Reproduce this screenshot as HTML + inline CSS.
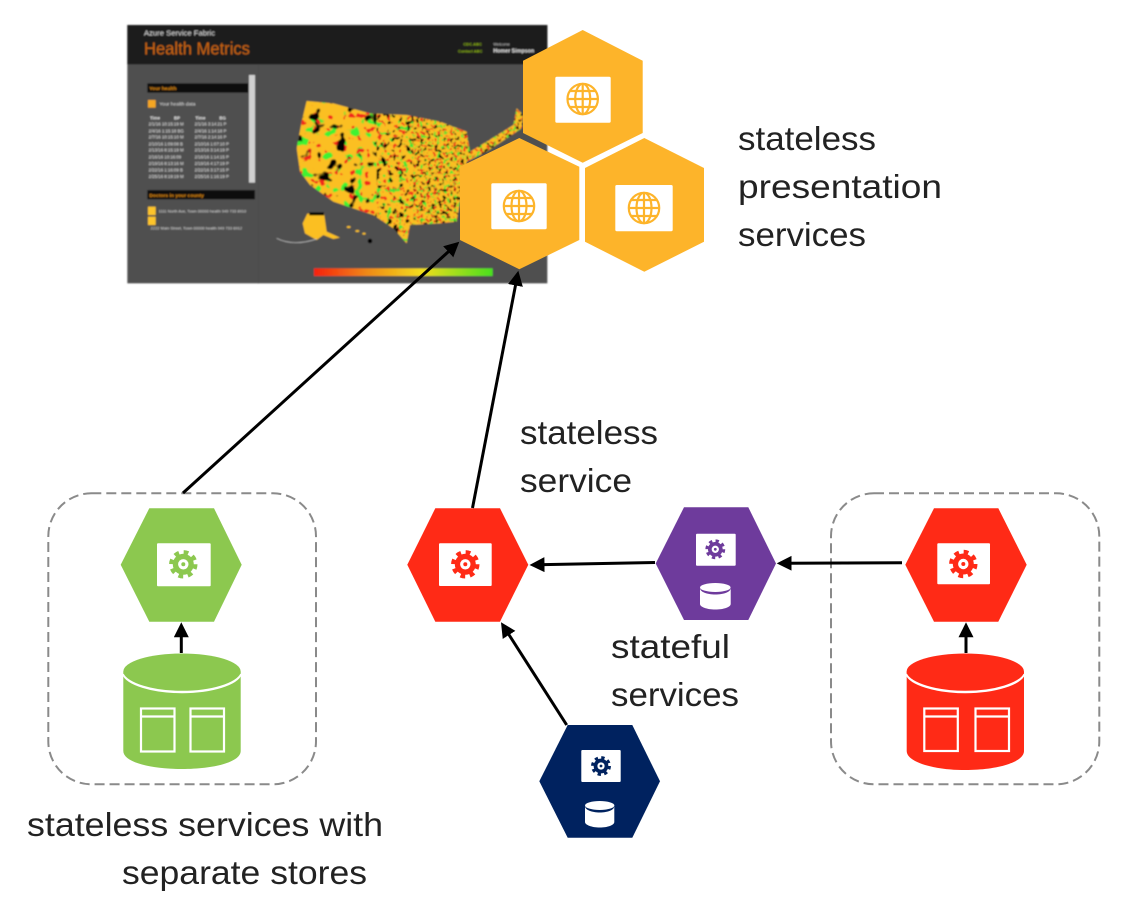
<!DOCTYPE html>
<html><head><meta charset="utf-8"><title>Service Fabric health metrics diagram</title>
<style>
html,body{margin:0;padding:0;background:#fff;width:1130px;height:900px;overflow:hidden}
svg{display:block}
.t{font-family:"Liberation Sans",sans-serif;font-size:33px;fill:#222}
.s{font-family:"Liberation Sans",sans-serif}
</style></head><body>
<svg width="1130" height="900" viewBox="0 0 1130 900" xmlns="http://www.w3.org/2000/svg">
<defs>
<filter id="soft" x="-5%" y="-5%" width="110%" height="110%"><feGaussianBlur stdDeviation="2"/></filter>
<filter id="soft2" x="-5%" y="-5%" width="110%" height="110%"><feGaussianBlur stdDeviation="0.35"/></filter>
<filter id="wk" color-interpolation-filters="sRGB"><feTurbulence type="fractalNoise" baseFrequency="0.028" numOctaves="2" seed="4"/><feColorMatrix values="0 0 0 0 0  0 0 0 0 0  0 0 0 0 0  14 0 0 0 -8.7"/></filter>
<filter id="wg" color-interpolation-filters="sRGB"><feTurbulence type="fractalNoise" baseFrequency="0.03" numOctaves="2" seed="11"/><feColorMatrix values="0 0 0 0 .25  0 0 0 0 .95  0 0 0 0 .2  14 0 0 0 -8.6"/></filter>
<filter id="wr" color-interpolation-filters="sRGB"><feTurbulence type="fractalNoise" baseFrequency="0.045" numOctaves="2" seed="23"/><feColorMatrix values="0 0 0 0 .95  0 0 0 0 .15  0 0 0 0 .1  14 0 0 0 -9"/></filter>
<filter id="mk" color-interpolation-filters="sRGB"><feTurbulence type="fractalNoise" baseFrequency="0.055" numOctaves="2" seed="9"/><feColorMatrix values="0 0 0 0 0  0 0 0 0 0  0 0 0 0 0  14 0 0 0 -8.5"/></filter>
<filter id="mg" color-interpolation-filters="sRGB"><feTurbulence type="fractalNoise" baseFrequency="0.06" numOctaves="2" seed="13"/><feColorMatrix values="0 0 0 0 .3  0 0 0 0 .9  0 0 0 0 .2  14 0 0 0 -8.4"/></filter>
<filter id="mr" color-interpolation-filters="sRGB"><feTurbulence type="fractalNoise" baseFrequency="0.07" numOctaves="2" seed="37"/><feColorMatrix values="0 0 0 0 .95  0 0 0 0 .2  0 0 0 0 .1  14 0 0 0 -8.6"/></filter>
<filter id="ek" color-interpolation-filters="sRGB"><feTurbulence type="fractalNoise" baseFrequency="0.09" numOctaves="2" seed="7"/><feColorMatrix values="0 0 0 0 0  0 0 0 0 0  0 0 0 0 0  14 0 0 0 -8.3"/></filter>
<filter id="eg" color-interpolation-filters="sRGB"><feTurbulence type="fractalNoise" baseFrequency="0.1" numOctaves="2" seed="17"/><feColorMatrix values="0 0 0 0 .3  0 0 0 0 .9  0 0 0 0 .2  14 0 0 0 -8.2"/></filter>
<filter id="er" color-interpolation-filters="sRGB"><feTurbulence type="fractalNoise" baseFrequency="0.1" numOctaves="2" seed="31"/><feColorMatrix values="0 0 0 0 .95  0 0 0 0 .2  0 0 0 0 .1  14 0 0 0 -8.2"/></filter>
<clipPath id="us"><polygon points="560,258 640,265 750,295 860,300 960,320 1040,350 1050,410 1100,380 1180,330 1190,280 1210,300 1205,340 1160,370 1100,410 1040,440 1020,560 1010,620 960,625 870,630 860,685 820,640 760,600 700,580 640,560 570,510 540,470 530,400 545,320"/></clipPath>
<clipPath id="east"><rect x="880" y="250" width="350" height="450"/></clipPath>
<clipPath id="mid"><rect x="770" y="250" width="110" height="450"/></clipPath>
<clipPath id="west"><rect x="500" y="250" width="270" height="450"/></clipPath>
<marker id="a" markerUnits="userSpaceOnUse" markerWidth="16" markerHeight="16" refX="7" refY="7.5" orient="auto"><path d="M0,0 L15,7.5 L0,15 Z" fill="#000"/></marker>
<symbol id="gear" viewBox="-15 -15 30 30" overflow="visible">
<circle r="11.7" fill="none" stroke="currentColor" stroke-width="5" stroke-dasharray="4.6 4.59"/>
<circle r="10.5" fill="currentColor"/><circle r="5.2" fill="#fff"/><circle r="2" fill="currentColor"/>
</symbol>
<g id="globe" fill="none" stroke="#fdb42b" stroke-width="2.2">
<circle r="15.2"/><ellipse rx="7.5" ry="15.2"/><line x1="0" y1="-15" x2="0" y2="15"/><line x1="-15" y1="0" x2="15" y2="0"/><path d="M-12.5,-8 H12.5 M-12.5,8 H12.5"/>
</g>
<linearGradient id="hb"><stop offset="0" stop-color="#f5200f"/><stop offset=".3" stop-color="#f08a14"/><stop offset=".6" stop-color="#f2dc1e"/><stop offset="1" stop-color="#49e01e"/></linearGradient>
</defs>
<rect width="1130" height="900" fill="#fff"/>

<!-- dashboard screenshot, drawn in 3x coordinates -->
<g transform="translate(120,15) scale(.33333)" filter="url(#soft)">
<rect x="22" y="30" width="1260" height="775" fill="#505050"/>
<rect x="22" y="30" width="1260" height="118" fill="#1a1a1a"/>
<line x1="415" y1="150" x2="415" y2="805" stroke="#484848" stroke-width="2"/>
<text class="s" x="72" y="62" font-size="23" fill="#d8d8d8">Azure Service Fabric</text>
<text class="s" x="72" y="118" font-size="52" fill="#c9650f" textLength="318" lengthAdjust="spacingAndGlyphs">Health Metrics</text>
<text class="s" x="1030" y="92" font-size="12" fill="#8ab010" font-weight="bold">CDC.ABC</text>
<text class="s" x="1014" y="112" font-size="12" fill="#8ab010" font-weight="bold">Contact ABC</text>
<text class="s" x="1120" y="92" font-size="12" fill="#ccc">Welcome</text>
<text class="s" x="1120" y="112" font-size="16" fill="#e8e8e8" font-weight="bold">Homer Simpson</text>
<rect x="387" y="180" width="18" height="323" fill="#d0d0d0"/>
<rect x="82" y="205" width="303" height="28" fill="#111"/>
<text class="s" x="88" y="225" font-size="15" fill="#e08a10" font-weight="bold">Your health</text>
<rect x="84" y="255" width="23" height="23" fill="#f5a623"/>
<text class="s" x="118" y="272" font-size="15" fill="#ddd">Your health data</text>
<g class="s" fill="#e6e6e6" font-size="13">
<text x="90" y="314" font-weight="bold">Time</text><text x="162" y="314" font-weight="bold">BP</text><text x="226" y="314" font-weight="bold">Time</text><text x="298" y="314" font-weight="bold">BG</text>
<text x="86" y="332">2/1/16 10:15:19 M</text><text x="224" y="332">2/1/16 3:14:21 P</text>
<text x="86" y="352">2/4/16 1:15:18 BG</text><text x="224" y="352">2/4/16 1:14:18 P</text>
<text x="86" y="371">2/7/16 10:15:10 M</text><text x="224" y="371">2/7/16 2:14:16 P</text>
<text x="86" y="391">2/10/16 1:09:08 B</text><text x="224" y="391">2/10/16 1:07:10 P</text>
<text x="86" y="410">2/13/16 8:15:19 M</text><text x="224" y="410">2/13/16 3:14:19 P</text>
<text x="86" y="430">2/16/16 10:16:09 </text><text x="224" y="430">2/16/16 1:14:15 P</text>
<text x="86" y="450">2/19/16 8:13:16 M</text><text x="224" y="450">2/19/16 4:17:19 P</text>
<text x="86" y="469">2/22/16 1:16:09 B</text><text x="224" y="469">2/22/16 3:17:15 P</text>
<text x="86" y="489">2/25/16 8:19:19 M</text><text x="224" y="489">2/25/16 1:16:19 P</text>
</g>
<rect x="82" y="525" width="323" height="28" fill="#111"/>
<text class="s" x="88" y="546" font-size="15" fill="#e08a10" font-weight="bold">Doctors in your county</text>
<rect x="84" y="575" width="23" height="25" fill="#fdc42b"/>
<rect x="84" y="605" width="23" height="25" fill="#fdc42b"/>
<text class="s" x="116" y="592" font-size="12" fill="#ddd">1111 North Ave, Town 00000 health 949 733 8910</text>
<text class="s" x="92" y="644" font-size="12" fill="#ddd">2222 Main Street, Town 00000 health 949 733 6912</text>

<g clip-path="url(#us)">
<rect x="500" y="240" width="740" height="460" fill="#fbbf24"/>
<g clip-path="url(#west)">
<rect x="500" y="240" width="290" height="460" filter="url(#wg)"/>
<rect x="500" y="240" width="290" height="460" filter="url(#wr)"/>
<rect x="500" y="240" width="290" height="460" filter="url(#wk)"/>
</g>
<g clip-path="url(#mid)">
<rect x="760" y="240" width="130" height="460" filter="url(#mg)"/>
<rect x="760" y="240" width="130" height="460" filter="url(#mr)"/>
<rect x="760" y="240" width="130" height="460" filter="url(#mk)"/>
</g>
<g clip-path="url(#east)">
<rect x="875" y="240" width="360" height="460" filter="url(#eg)"/>
<rect x="875" y="240" width="360" height="460" filter="url(#er)"/>
<rect x="875" y="240" width="360" height="460" filter="url(#ek)"/>
</g>
</g>
<polygon points="562,596 612,594 620,650 660,668 640,672 610,660 590,675 555,655 548,625" fill="#fbbf24"/>
<rect x="568" y="592" width="44" height="9" fill="#000"/>
<path d="M470,670 Q520,695 590,672" fill="none" stroke="#bbb" stroke-width="2"/>
<ellipse cx="686" cy="636" rx="6" ry="3" fill="#fbbf24"/><ellipse cx="712" cy="648" rx="6" ry="3" fill="#fbbf24"/><ellipse cx="732" cy="656" rx="5" ry="3" fill="#fbbf24"/><circle cx="750" cy="678" r="7" fill="#000"/>
<rect x="582" y="760" width="536" height="23" fill="url(#hb)"/>
</g>

<!-- orange hexes -->
<g filter="url(#soft2)">
<polygon points="582.7,30 642.7,60.7 642.7,133 582.7,162.7 523,133 523,60.7" fill="#fdb42b"/>
<polygon points="519.3,138 579.3,166.7 579.3,240 519.3,269.3 460,240 460,166.7" fill="#fdb42b"/>
<polygon points="644.3,138 704,168 704,241.7 644.3,271.7 585,241.7 585,168" fill="#fdb42b"/>
<rect x="555.3" y="76.7" width="55.4" height="46" rx="1.5" fill="#fff"/>
<rect x="491.3" y="183.3" width="55.4" height="46" rx="1.5" fill="#fff"/>
<rect x="615.3" y="185" width="57.4" height="46.3" rx="1.5" fill="#fff"/>
<use href="#globe" x="582.7" y="99"/>
<use href="#globe" x="519" y="206"/>
<use href="#globe" x="644" y="208"/>

<!-- dashed boxes -->
<rect x="48.3" y="493.3" width="267.7" height="291" rx="43" fill="none" stroke="#8a8a8a" stroke-width="2" stroke-dasharray="10 5"/>
<rect x="831" y="493.3" width="268.3" height="291" rx="43" fill="none" stroke="#8a8a8a" stroke-width="2" stroke-dasharray="10 5"/>

<!-- green -->
<polygon points="120.7,564.7 149.3,508.3 214,508.3 241.7,564.7 214,621.7 149.3,621.7" fill="#8cc850"/>
<rect x="157" y="543.3" width="53.7" height="43" rx="1" fill="#fff"/>
<use href="#gear" x="168.3" y="549.3" width="30" height="30" style="color:#8cc850"/>
<path d="M123.3,671.7 V751 C123.3,762 150,769 182,769 C214,769 240.7,762 240.7,751 V671.7 Z" fill="#8cc850"/>
<path d="M123.3,674 C127,684 152,692 182,692 C212,692 237,684 240.7,674" fill="none" stroke="#fff" stroke-width="2.4"/>
<ellipse cx="182" cy="671.5" rx="58.7" ry="18" fill="#8cc850"/>
<g fill="none" stroke="#fff" stroke-width="2.2"><rect x="141" y="708.5" width="33.5" height="43"/><rect x="190.5" y="708.5" width="33.5" height="43"/><path d="M141,716.5 H174.5 M190.5,716.5 H224"/></g>

<!-- red left -->
<polygon points="407.3,564.7 435.3,508.3 500,508.3 528.3,564.7 500,621.7 435.3,621.7" fill="#ff2b17"/>
<rect x="439" y="543.3" width="52.7" height="42.7" rx="1" fill="#fff"/>
<use href="#gear" x="450.3" y="549.3" width="30" height="30" style="color:#ff2b17"/>

<!-- purple -->
<polygon points="655.7,563.5 684,507.3 748.3,507.3 776,563.5 748.3,620 684,620" fill="#6e3a9c"/>
<rect x="696" y="533.7" width="39.7" height="32" rx="1" fill="#fff"/>
<use href="#gear" x="704.8" y="538.8" width="21" height="21" style="color:#6e3a9c"/>
<path d="M700,588 V604 C700,607 707,609.5 715.3,609.5 C724,609.5 730.7,607 730.7,604 V588 C730.7,592 724,594.5 715.3,594.5 C707,594.5 700,592 700,588 Z" fill="#fff"/>
<ellipse cx="715.3" cy="587.5" rx="15.3" ry="4.5" fill="#fff"/>

<!-- navy -->
<polygon points="539.3,781.3 567.7,725 632.3,725 660,781.3 632.3,837.7 567.7,837.7" fill="#00245e"/>
<rect x="581.3" y="750" width="39.4" height="32" rx="1" fill="#fff"/>
<use href="#gear" x="590.5" y="755.5" width="21" height="21" style="color:#00245e"/>
<path d="M585,806 V822 C585,825 592,827.5 599.7,827.5 C608,827.5 614.3,825 614.3,822 V806 C614.3,810 608,812.5 599.7,812.5 C592,812.5 585,810 585,806 Z" fill="#fff"/>
<ellipse cx="599.7" cy="805.5" rx="14.7" ry="4.5" fill="#fff"/>

<!-- red right -->
<polygon points="905.3,564.7 934,508.3 998.3,508.3 1026.7,564.7 998.3,621.7 934,621.7" fill="#ff2b17"/>
<rect x="937.3" y="543.3" width="52.7" height="41" rx="1" fill="#fff"/>
<use href="#gear" x="948.3" y="549" width="30" height="30" style="color:#ff2b17"/>
<path d="M906.7,671.7 V751 C906.7,762 933,770 965.3,770 C998,770 1024,762 1024,751 V671.7 Z" fill="#ff2b17"/>
<path d="M906.7,674 C910,684 936,692 965.3,692 C995,692 1020,684 1024,674" fill="none" stroke="#fff" stroke-width="2.4"/>
<ellipse cx="965.3" cy="671.5" rx="58.7" ry="18" fill="#ff2b17"/>
<g fill="none" stroke="#fff" stroke-width="2.2"><rect x="924.3" y="708.5" width="33.5" height="42.5"/><rect x="975.5" y="708.5" width="33.5" height="42.5"/><path d="M924.3,716.5 H957.8 M975.5,716.5 H1009"/></g>
</g>

<!-- arrows -->
<g stroke="#000" stroke-width="3" fill="none" filter="url(#soft2)">
<line x1="183" y1="493" x2="453.4" y2="247.1" marker-end="url(#a)"/>
<line x1="472.5" y1="508" x2="516.8" y2="278.6" marker-end="url(#a)"/>
<line x1="655" y1="562.5" x2="537.5" y2="564.8" marker-end="url(#a)"/>
<line x1="902" y1="562.7" x2="784.7" y2="563.3" marker-end="url(#a)"/>
<line x1="566.7" y1="725" x2="505.3" y2="629" marker-end="url(#a)"/>
<line x1="181.3" y1="653" x2="181.3" y2="630.3" marker-end="url(#a)"/>
<line x1="966" y1="653" x2="966" y2="630.3" marker-end="url(#a)"/>
</g>

<!-- labels -->
<g class="t">
<text class="t" x="738" y="150" textLength="138" lengthAdjust="spacingAndGlyphs">stateless</text>
<text class="t" x="738" y="198" textLength="204" lengthAdjust="spacingAndGlyphs">presentation</text>
<text class="t" x="738" y="246" textLength="128" lengthAdjust="spacingAndGlyphs">services</text>
<text class="t" x="520" y="444" textLength="138" lengthAdjust="spacingAndGlyphs">stateless</text>
<text class="t" x="520" y="492" textLength="112" lengthAdjust="spacingAndGlyphs">service</text>
<text class="t" x="611" y="658" textLength="119" lengthAdjust="spacingAndGlyphs">stateful</text>
<text class="t" x="611" y="706" textLength="128" lengthAdjust="spacingAndGlyphs">services</text>
<text class="t" x="27" y="836" textLength="356" lengthAdjust="spacingAndGlyphs">stateless services with</text>
<text class="t" x="122" y="884" textLength="245" lengthAdjust="spacingAndGlyphs">separate stores</text>
</g>
</svg>
</body></html>
